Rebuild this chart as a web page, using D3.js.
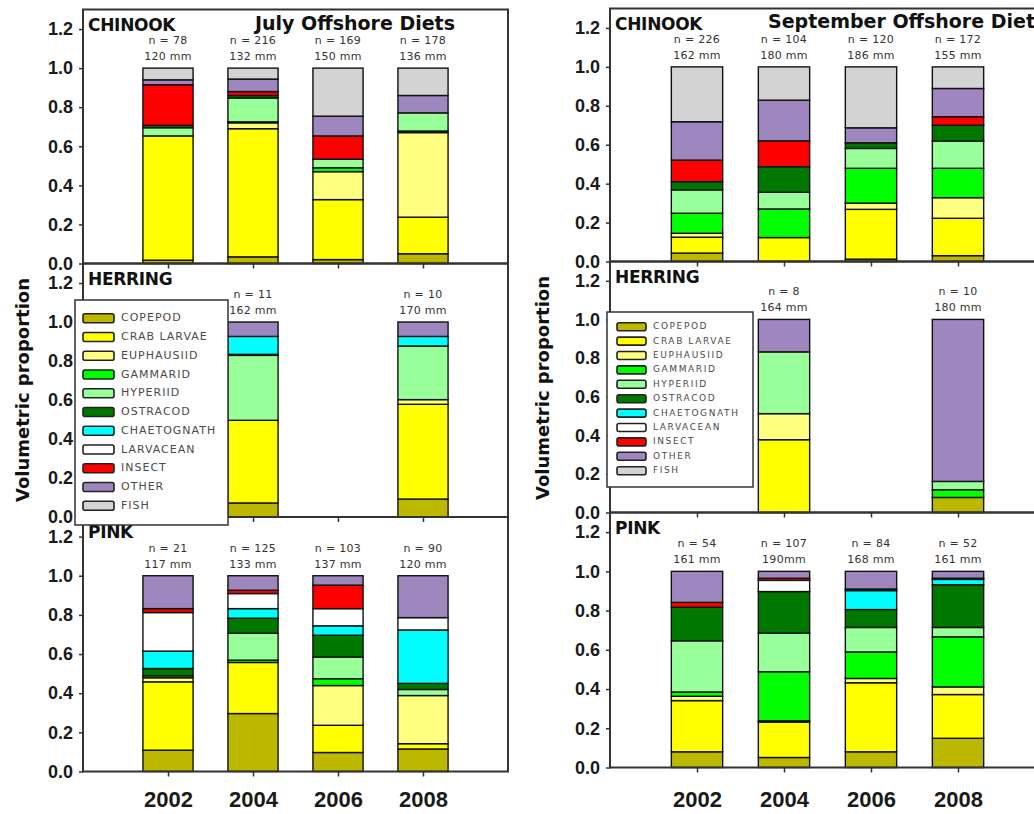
<!DOCTYPE html>
<html lang="en">
<head>
<meta charset="UTF-8">
<title>Offshore Diets</title>
<script src="https://d3js.org/d3.v7.min.js"></script>
<style>
  body{margin:0;background:#fff}
  svg{display:block;font-family:"DejaVu Sans",Verdana,sans-serif}
  .ytick text{font-size:18px;font-weight:bold;fill:#1a1a1a}
  .xlab text{font-size:22px;font-weight:bold;fill:#1a1a1a}
  .tick line{stroke:#333;stroke-width:1.5}
  .frame{fill:none;stroke:#333;stroke-width:2}
  .seg{stroke:#111;stroke-width:1.4}
  .nlab{font-size:11px;fill:#333;text-anchor:middle;dominant-baseline:middle;letter-spacing:.3px}
  .plab{font-size:17px;font-weight:bold;fill:#111;dominant-baseline:middle;letter-spacing:-.3px}
  .title{font-size:19px;font-weight:bold;fill:#111;dominant-baseline:middle}
  .ytitle{font-size:18px;font-weight:bold;fill:#111;text-anchor:middle}
</style>
</head>
<body>
<svg id="chart" width="1034" height="814"></svg>
<script>
// --- data ---
const categories=["COPEPOD","CRAB LARVAE","EUPHAUSIID","GAMMARID","HYPERIID","OSTRACOD",
                  "CHAETOGNATH","LARVACEAN","INSECT","OTHER","FISH"];
const catColors=["#bcb800","#ffff00","#ffff80","#00ff00","#99ff99","#007800",
                 "#00ffff","#ffffff","#ff0000","#9e87bf","#d3d3d3"];
const years=[2002,2004,2006,2008];
const herringYears=[2004,2008];
const yTicks=[0,0.2,0.4,0.6,0.8,1.0,1.2];

// July (values per year, in category order)
const julyChinook=[
  [.017,.636,0,0,.042,.012,0,0,.208,.025,.06],
  [.034,.656,.03,.005,.122,.013,0,0,.02,.064,.056],
  [.02,.307,.143,.02,.044,0,0,0,.119,.101,.246],
  [.05,.187,.433,.008,.093,0,0,0,0,.089,.14]
];
const julyChinookN=["n = 78","n = 216","n = 169","n = 178"];
const julyChinookMM=["120 mm","132 mm","150 mm","136 mm"];

const julyHerring=[
  [.072,.424,0,0,.333,.005,.092,0,0,.074,0],
  [.092,.486,.024,0,.275,0,.049,0,0,.074,0]
];
const julyHerringN=["n = 11","n = 10"];
const julyHerringMM=["162 mm","170 mm"];

const julyPink=[
  [.109,.349,.021,.01,0,.037,.089,.197,.02,.168,0],
  [.296,.261,0,.012,.137,.077,.049,.077,.017,.074,0],
  [.097,.139,.203,.035,.111,.111,.048,.088,.12,.048,0],
  [.115,.027,.246,0,.031,.031,.273,.063,0,.214,0]
];
const julyPinkN=["n = 21","n = 125","n = 103","n = 90"];
const julyPinkMM=["117 mm","133 mm","137 mm","120 mm"];

// September
const septChinook=[
  [.043,.082,.02,.103,.12,.042,0,0,.111,.197,.282],
  [0,.123,0,.147,.086,.131,0,0,.133,.209,.171],
  [.012,.256,.032,.179,.102,.029,0,0,0,.077,.313],
  [.03,.192,.106,.151,.14,.081,0,0,.044,.145,.111]
];
const septChinookN=["n = 226","n = 104","n = 120","n = 172"];
const septChinookMM=["162 mm","180 mm","186 mm","155 mm"];

const septHerring=[
  [0,.377,.135,0,.32,0,0,0,0,.168,0],
  [.078,0,0,.04,.043,0,0,0,0,.839,0]
];
const septHerringN=["n = 8","n = 10"];
const septHerringMM=["164 mm","180 mm"];

const septPink=[
  [.08,.261,.022,.022,.261,.171,0,0,.025,.158,0],
  [.051,.18,.007,.25,.197,.212,0,.057,.011,.035,0],
  [.08,.352,.022,.135,.125,.091,.097,0,.008,.09,0],
  [.149,.223,.039,.255,.048,.218,.027,.006,0,.035,0]
];
const septPinkN=["n = 54","n = 107","n = 84","n = 52"];
const septPinkMM=["161 mm","190mm","168 mm","161 mm"];

// --- drawing ---
const svg=d3.select("#chart");
const color=d3.scaleOrdinal().domain(categories).range(catColors);
const stack=d3.stack().keys(categories);

function drawPanel(cfg){
  const {x,top,bottom,label,yrs,values,nLab,mmLab,xLabels}=cfg;
  const y=d3.scaleLinear().domain([0,1.3]).range([bottom,top]);
  const g=svg.append("g");
  const [x0,x1]=x.range();

  // x ticks (and years on the last panel)
  const xa=d3.axisBottom(x).tickValues(years).tickSize(5);
  if(xLabels) xa.tickFormat(d3.format("d")).tickPadding(Math.max(4,806.5-bottom-5-15.6));
  else xa.tickFormat("");
  g.append("g").attr("class","xlab").attr("transform",`translate(0,${bottom})`)
   .call(xa).call(a=>a.select(".domain").remove());

  // y ticks
  g.append("g").attr("class","ytick").attr("transform",`translate(${x0},0)`)
   .call(d3.axisLeft(y).tickValues(yTicks).tickFormat(d3.format(".1f")).tickSize(4).tickPadding(6))
   .call(a=>a.select(".domain").remove());

  // stacked bars
  const rows=values.map((v,i)=>{
    const o={year:yrs[i]};
    categories.forEach((c,j)=>o[c]=v[j]);
    return o;
  });
  const bw=x(2001.18)-x(2000);
  stack(rows).forEach(s=>{
    g.append("g").selectAll("rect").data(s.filter(d=>d[1]-d[0]>0)).join("rect")
     .attr("class","seg")
     .attr("x",d=>x(d.data.year)-bw/2).attr("width",bw)
     .attr("y",d=>y(d[1])).attr("height",d=>y(d[0])-y(d[1]))
     .attr("fill",color(s.key));
  });

  // n / length labels
  yrs.forEach((yr,i)=>{
    g.append("text").attr("class","nlab").attr("x",x(yr)).attr("y",y(1)-27).text(nLab[i]);
    g.append("text").attr("class","nlab").attr("x",x(yr)).attr("y",y(1)-11).text(mmLab[i]);
  });

  g.append("rect").attr("class","frame")
   .attr("x",x0).attr("y",top).attr("width",x1-x0).attr("height",bottom-top);
  g.append("text").attr("class","plab").attr("x",x0+5).attr("y",top+16).text(label);
}

function drawLegend(box,row0,step,sw,fs,ls){
  const g=svg.append("g");
  g.append("rect").attr("x",box[0]).attr("y",box[1]).attr("width",box[2]).attr("height",box[3])
   .attr("fill","#fff").attr("stroke","#333").attr("stroke-width",1.5);
  categories.forEach((c,i)=>{
    const cy=row0+i*step;
    g.append("rect").attr("x",sw[0]).attr("y",cy-sw[2]/2).attr("width",sw[1]).attr("height",sw[2])
     .attr("rx",2).attr("fill",color(c)).attr("stroke","#222").attr("stroke-width",1.6);
    g.append("text").attr("x",sw[0]+sw[1]+7).attr("y",cy).attr("dominant-baseline","middle")
     .style("font-size",fs+"px").style("letter-spacing",ls+"px").attr("fill","#4a4a4a").text(c);
  });
}

// July (left)
const xL=d3.scaleLinear().domain([2000,2010]).range([83,508]);
drawPanel({x:xL,top:9.5,bottom:263.5,label:"CHINOOK",yrs:years,values:julyChinook,
           nLab:julyChinookN,mmLab:julyChinookMM});
drawPanel({x:xL,top:263.5,bottom:517,label:"HERRING",yrs:herringYears,values:julyHerring,
           nLab:julyHerringN,mmLab:julyHerringMM});
drawPanel({x:xL,top:517,bottom:771.5,label:"PINK",yrs:years,values:julyPink,
           nLab:julyPinkN,mmLab:julyPinkMM,xLabels:true});
svg.append("text").attr("class","title").attr("x",355).attr("y",24)
   .attr("text-anchor","middle").text("July Offshore Diets");
svg.append("text").attr("class","ytitle").attr("transform","translate(29,390) rotate(-90)")
   .text("Volumetric proportion");
drawLegend([75,300,153,225],318.3,18.75,[83,31,9],11,1);

// September (right)
const xR=d3.scaleLinear().domain([2000,2010]).range([610,1045]);
drawPanel({x:xR,top:8.5,bottom:261.5,label:"CHINOOK",yrs:years,values:septChinook,
           nLab:septChinookN,mmLab:septChinookMM});
drawPanel({x:xR,top:261.5,bottom:512.5,label:"HERRING",yrs:herringYears,values:septHerring,
           nLab:septHerringN,mmLab:septHerringMM});
drawPanel({x:xR,top:512.5,bottom:767.5,label:"PINK",yrs:years,values:septPink,
           nLab:septPinkN,mmLab:septPinkMM,xLabels:true});
svg.append("text").attr("class","title").attr("x",768).attr("y",22)
   .text("September Offshore Diets");
svg.append("text").attr("class","ytitle").attr("transform","translate(549,388) rotate(-90)")
   .text("Volumetric proportion");
drawLegend([607,312,146,175],326.7,14.4,[617,29,8],9,1.6);
</script>
</body>
</html>
